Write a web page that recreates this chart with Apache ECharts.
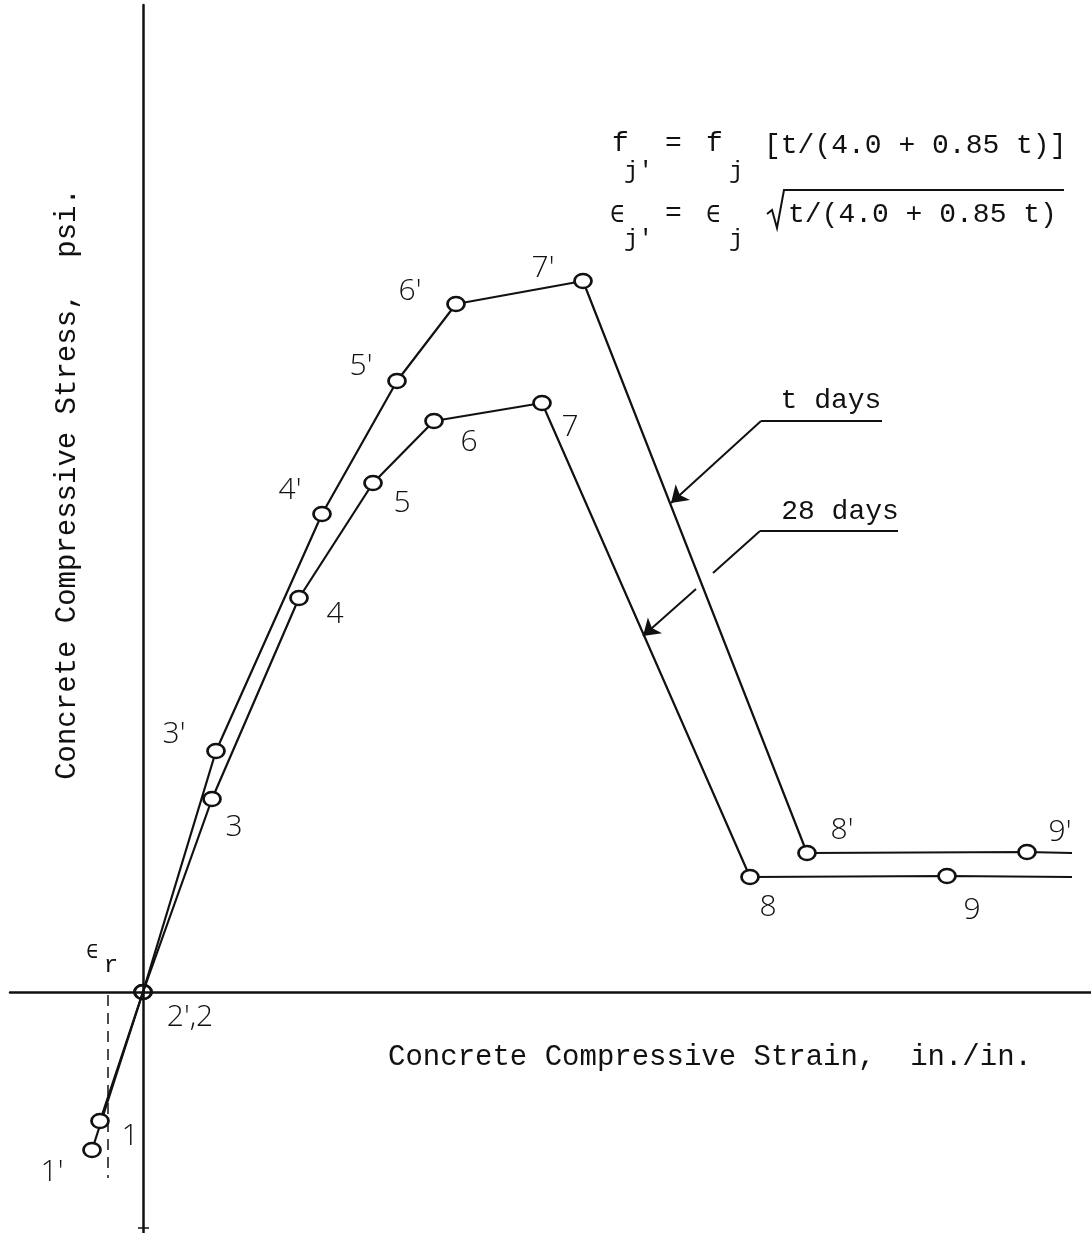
<!DOCTYPE html>
<html>
<head>
<meta charset="utf-8">
<title>Concrete stress-strain curves</title>
<script src="https://cdn.jsdelivr.net/npm/echarts@6/dist/echarts.min.js"></script>
<style>
  html, body { margin: 0; padding: 0; background: #fff; }
  #chart { width: 1091px; height: 1233px; }
</style>
</head>
<body>
<div id="chart"></div>
<script>
// Point numbers along each curve (the last entry is the open end of the tail)
const pointNames28 = ['1', '2', '3', '4', '5', '6', '7', '8', '9', ''];
const pointNamesT  = ["1'", "2'", "3'", "4'", "5'", "6'", "7'", "8'", "9'", ''];

// Strain (x) and stress (y) in drawing units, 28-day concrete
const strain28 = [-43, 0, 69, 156, 230, 291, 399, 607, 804, 929];
const stress28 = [-129, 0, 193, 394, 509, 571, 589, 115, 116, 115];

// Strain (x) and stress (y) in drawing units, concrete at t days
const strainT = [-51, 0, 73, 179, 254, 313, 440, 664, 884, 929];
const stressT = [-158, 0, 241, 478, 611, 688, 711, 139, 140, 139];

// Residual strain epsilon_r marker
const epsR = -35;
const epsRSpan = [-3, -186];

// Axis extents
const xRange = [-133, 948];
const yRange = [-241, 987];

// Label placement for each point (screen px from the marker centre)
const offs28 = [[30, 15], [47, 25], [22, 28], [36, 16], [29, 20], [35, 21], [28, 24], [18, 30], [25, 34], [0, 0]];
const offsT  = [[-40, 22], [0, 0], [-42, -17], [-32, -24], [-36, -15], [-46, -13], [-40, -13], [35, -23], [33, -20], [0, 0]];

const MONO = '"Liberation Mono", "DejaVu Sans Mono", monospace';
const HAND = '"Open Sans", "DejaVu Sans", sans-serif';
const INK = '#111';

function buildPoints(xs, ys, names, offs, override) {
  return xs.map((x, i) => {
    const last = i === xs.length - 1;
    const item = {
      value: [x, ys[i]],
      name: names[i],
      label: { show: !!names[i], offset: offs[i] },
    };
    if (last) item.symbol = 'none';
    if (override && override[i]) Object.assign(item, override[i]);
    return item;
  });
}

// the shared origin point carries both numbers and is drawn see-through
const data28 = buildPoints(strain28, stress28, pointNames28, offs28, {
  1: { label: { show: true, offset: offs28[1], formatter: "2',2" }, itemStyle: { color: 'rgba(0,0,0,0)' } }
});
const dataT = buildPoints(strainT, stressT, pointNamesT, offsT, {
  1: { label: { show: false }, itemStyle: { color: 'rgba(0,0,0,0)' } }
});

const curveStyle = (w) => ({
  type: 'line',
  showSymbol: true,
  symbol: 'circle',
  symbolSize: [17, 14],
  itemStyle: { color: '#fff', borderColor: INK, borderWidth: 2.5 },
  lineStyle: { color: INK, width: w },
  label: {
    show: true,
    position: 'inside',
    formatter: '{b}',
    fontFamily: HAND,
    fontWeight: 300,
    fontSize: 30,
    color: INK,
    align: 'center',
    verticalAlign: 'middle'
  },
  emphasis: { disabled: true },
  z: 5
});

const leaderStyle = { color: INK, width: 2, curveness: 0, opacity: 1 };

const option = {
  animation: false,
  backgroundColor: '#fff',
  grid: { left: 10, right: 0, top: 5, bottom: 0 },
  xAxis: {
    type: 'value', min: xRange[0], max: xRange[1],
    axisLine: { show: true, onZero: true, lineStyle: { color: INK, width: 2.5 } },
    axisTick: { show: false }, axisLabel: { show: false }, splitLine: { show: false }
  },
  yAxis: {
    type: 'value', min: yRange[0], max: yRange[1],
    axisLine: { show: true, onZero: true, lineStyle: { color: INK, width: 2.5 } },
    axisTick: { show: false }, axisLabel: { show: false }, splitLine: { show: false }
  },
  series: [
    Object.assign(curveStyle(2.2), { name: '28 days', data: data28 }),
    Object.assign(curveStyle(2.2), { name: 't days', data: dataT }),
    {
      name: 'epsilon_r',
      type: 'line',
      symbol: 'none',
      data: [[epsR, epsRSpan[0]], [epsR, epsRSpan[1]]],
      lineStyle: { color: INK, width: 1.5, type: [11, 7] },
      z: 3
    },
    {
      // leader lines naming the two curves
      type: 'lines',
      coordinateSystem: 'cartesian2d',
      symbol: ['none', 'arrow'],
      symbolSize: [9, 16],
      lineStyle: leaderStyle,
      itemStyle: { color: INK, opacity: 1 },
      z: 6,
      data: [
        { coords: [[739, 571], [618, 571]], symbol: ['none', 'none'] },
        { coords: [[618, 571], [528, 489]] },
        { coords: [[755, 461], [617, 461]], symbol: ['none', 'none'] },
        { coords: [[617, 461], [570, 419]], symbol: ['none', 'none'] },
        { coords: [[553, 403], [500, 356]] }
      ]
    }
  ],
  graphic: [
    // axis titles
    {
      type: 'text', x: 67, y: 484, rotation: Math.PI / 2,
      style: { text: 'Concrete Compressive Stress,  psi.', font: '29px ' + MONO, fill: INK, align: 'center', verticalAlign: 'middle' }
    },
    {
      type: 'text', x: 710, y: 1057,
      style: { text: 'Concrete Compressive Strain,  in./in.', font: '29px ' + MONO, fill: INK, align: 'center', verticalAlign: 'middle' }
    },
    // curve names
    { type: 'text', x: 831, y: 401, style: { text: 't days', font: '28px ' + MONO, fill: INK, align: 'center', verticalAlign: 'middle' } },
    { type: 'text', x: 840, y: 512, style: { text: '28 days', font: '28px ' + MONO, fill: INK, align: 'center', verticalAlign: 'middle' } },
    // epsilon_r
    { type: 'text', x: 92, y: 953, style: { text: '∈', font: '20px ' + MONO, fill: INK, align: 'center', verticalAlign: 'middle' } },
    { type: 'text', x: 111, y: 966, style: { text: 'r', font: '24px ' + MONO, fill: INK, align: 'center', verticalAlign: 'middle' } },
    // age-conversion formulas
    { type: 'text', x: 612, y: 158, style: { text: 'f', font: '28px ' + MONO, fill: INK, align: 'left', verticalAlign: 'bottom' } },
    { type: 'text', x: 624, y: 184, style: { text: "j'", font: '24px ' + MONO, fill: INK, align: 'left', verticalAlign: 'bottom' } },
    { type: 'text', x: 665, y: 158, style: { text: '=', font: '28px ' + MONO, fill: INK, align: 'left', verticalAlign: 'bottom' } },
    { type: 'text', x: 706, y: 158, style: { text: 'f', font: '28px ' + MONO, fill: INK, align: 'left', verticalAlign: 'bottom' } },
    { type: 'text', x: 729, y: 184, style: { text: 'j', font: '24px ' + MONO, fill: INK, align: 'left', verticalAlign: 'bottom' } },
    { type: 'text', x: 764, y: 160, style: { text: '[t/(4.0 + 0.85 t)]', font: '28px ' + MONO, fill: INK, align: 'left', verticalAlign: 'bottom' } },
    { type: 'text', x: 610, y: 228, style: { text: '∈', font: '24px ' + MONO, fill: INK, align: 'left', verticalAlign: 'bottom' } },
    { type: 'text', x: 624, y: 252, style: { text: "j'", font: '24px ' + MONO, fill: INK, align: 'left', verticalAlign: 'bottom' } },
    { type: 'text', x: 665, y: 228, style: { text: '=', font: '28px ' + MONO, fill: INK, align: 'left', verticalAlign: 'bottom' } },
    { type: 'text', x: 706, y: 228, style: { text: '∈', font: '24px ' + MONO, fill: INK, align: 'left', verticalAlign: 'bottom' } },
    { type: 'text', x: 729, y: 252, style: { text: 'j', font: '24px ' + MONO, fill: INK, align: 'left', verticalAlign: 'bottom' } },
    {
      type: 'polyline',
      shape: { points: [[767, 214], [772, 210], [777, 228], [784, 190], [1064, 190]] },
      style: { stroke: INK, lineWidth: 2, fill: null }
    },
    { type: 'text', x: 788, y: 229, style: { text: 't/(4.0 + 0.85 t)', font: '28px ' + MONO, fill: INK, align: 'left', verticalAlign: 'bottom' } },
    // small end tick at the foot of the stress axis
    { type: 'line', shape: { x1: 138, y1: 1228, x2: 149, y2: 1228 }, style: { stroke: INK, lineWidth: 1.5 } }
  ]
};

const chart = echarts.init(document.getElementById('chart'), null, { renderer: 'canvas' });
chart.setOption(option);
</script>
</body>
</html>
